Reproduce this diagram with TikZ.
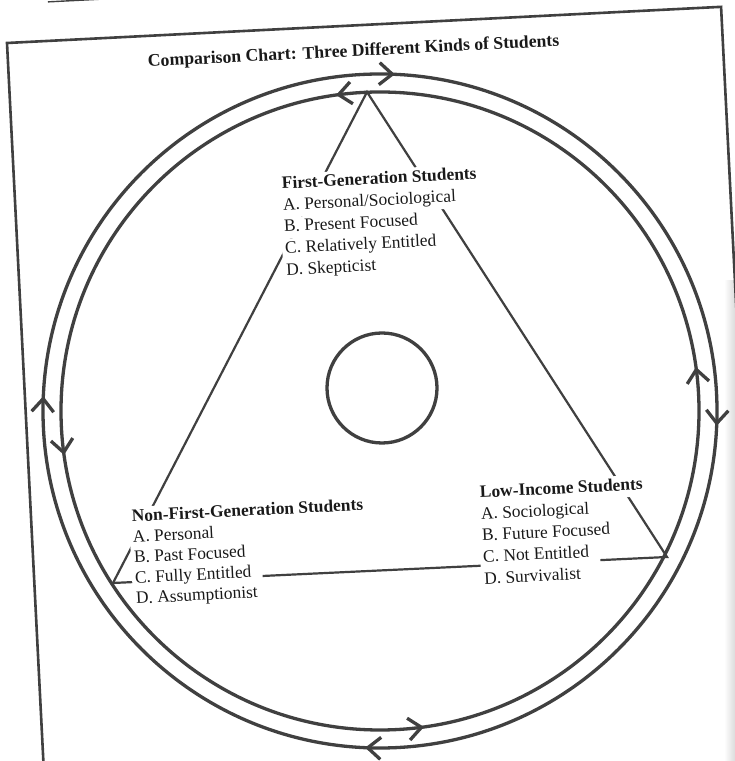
\documentclass[tikz,border=0pt]{standalone}
\usepackage{fontspec}
\setmainfont{Liberation Serif}
\usetikzlibrary{arrows.meta,decorations.markings}

\definecolor{trait}{gray}{0.25}
\definecolor{encre}{gray}{0.1}

\tikzset{
  cercle/.style={draw=trait, line width=3.3pt},
  cote/.style={draw=trait, line width=2.2pt},
  cadre/.style={draw=trait, line width=2.6pt},
  ligne/.style={anchor=base west, fill=white, inner xsep=3pt, inner ysep=2.8pt,
    text height=12pt, text depth=4pt, text=encre,
    font=\fontsize{17.4}{20}\selectfont, execute at end node={\hspace*{8pt}}},
  titre/.style={ligne, font=\fontsize{17.4}{20}\selectfont\bfseries},
  pointe/.tip={Straight Barb[length=13pt,width=22pt]}
}

\begin{document}
\begin{tikzpicture}[x=1pt, y=1pt]
    \path[use as bounding box, clip] (0,0) rectangle (735,761);
    \fill[white] (0,0) rectangle (735,761);
    \shade[left color=white, right color=black!14] (724,0) rectangle (735,480);

    % Points
    \coordinate (centre) at (380,350);
    \coordinate (milieu) at (382,373);
    \coordinate (sommet) at (367,669);   % sommet du triangle, sur le cercle interieur
    \coordinate (basD) at (667,204);
    \coordinate (basG) at (113,178);

    % Cadre (page un peu tournee)
    \begin{scope}[shift={(7,718)}, rotate=2.9]
        \draw[cadre] (0,0) rectangle (715,-780);
        \draw[trait, line width=1.4pt] (43,39) -- (160,39);
    \end{scope}

    % Triangle
    \draw[cote] (sommet) -- (basD) -- (basG) -- cycle;

    % Titre
    \node[titre, rotate=2.9, font=\fontsize{17.7}{20}\selectfont\bfseries] (titre) at (145,694)
        {Comparison Chart: Three Different Kinds of Students};

    % Textes
    \begin{scope}[shift={(279,572)}, rotate=2.9, transform shape]
        \node[titre] (prem0) at (0,0) {First-Generation Students};
        \node[ligne] (prem1) at (0,-21.6) {A. Personal/Sociological};
        \node[ligne] (prem2) at (0,-43.2) {B. Present Focused};
        \node[ligne] (prem3) at (0,-64.8) {C. Relatively Entitled};
        \node[ligne] (prem4) at (0,-86.4) {D. Skepticist};
    \end{scope}

    \begin{scope}[shift={(129,239)}, rotate=2.9, transform shape]
        \node[titre] (non0) at (0,0) {Non-First-Generation Students};
        \node[ligne] (non1) at (0,-20.5) {A. Personal};
        \node[ligne] (non2) at (0,-41) {B. Past Focused};
        \node[ligne] (non3) at (0,-61.5) {C. Fully Entitled};
        \node[ligne] (non4) at (0,-82) {D. Assumptionist};
    \end{scope}

    \begin{scope}[shift={(477,263)}, rotate=2.9, transform shape]
        \node[titre] (bas0) at (0,0) {Low-Income Students};
        \node[ligne] (bas1) at (0,-21.6) {A. Sociological};
        \node[ligne] (bas2) at (0,-43.2) {B. Future Focused};
        \node[ligne] (bas3) at (0,-64.8) {C. Not Entitled};
        \node[ligne] (bas4) at (0,-86.4) {D. Survivalist};
    \end{scope}

    % Cercles
    \draw[cercle] (milieu) circle[radius=55];
    \draw[cercle, postaction={decorate}, decoration={markings,
        mark=at position 0.007 with {\arrow{pointe}},
        mark=at position 0.257 with {\arrow{pointe}},
        mark=at position 0.507 with {\arrow{pointe}},
        mark=at position 0.757 with {\arrow{pointe}}}]
        (centre) ++(0:337) arc[start angle=0, end angle=-360, radius=337];
    \draw[cercle, postaction={decorate}, decoration={markings,
        mark=at position 0.022 with {\arrow{pointe}},
        mark=at position 0.272 with {\arrow{pointe}},
        mark=at position 0.522 with {\arrow{pointe}},
        mark=at position 0.772 with {\arrow{pointe}}}]
        (centre) ++(0:319) arc[start angle=0, end angle=360, radius=319];

\end{tikzpicture}
\end{document}
